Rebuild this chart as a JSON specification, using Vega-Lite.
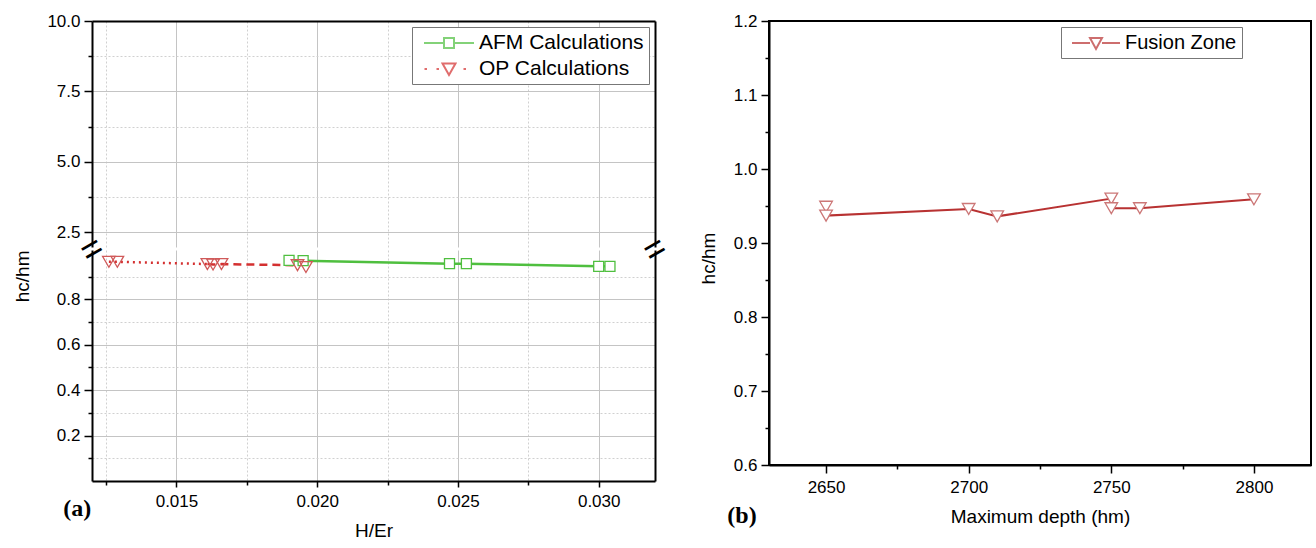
{
  "$schema": "https://vega.github.io/schema/vega-lite/v6.json",
  "padding": {"left": 13, "top": 11, "right": 3, "bottom": 2},
  "datasets": {
    "a": [
      {"series": "AFM Calculations", "x": 0.0190, "y": 0.971},
      {"series": "AFM Calculations", "x": 0.0195, "y": 0.970},
      {"series": "AFM Calculations", "x": 0.0247, "y": 0.957},
      {"series": "AFM Calculations", "x": 0.0253, "y": 0.957},
      {"series": "AFM Calculations", "x": 0.0300, "y": 0.945},
      {"series": "AFM Calculations", "x": 0.0304, "y": 0.945},
      {"series": "OP Calculations", "x": 0.0126, "y": 0.965},
      {"series": "OP Calculations", "x": 0.0129, "y": 0.965},
      {"series": "OP Calculations", "x": 0.0161, "y": 0.955},
      {"series": "OP Calculations", "x": 0.0163, "y": 0.953},
      {"series": "OP Calculations", "x": 0.0166, "y": 0.955},
      {"series": "OP Calculations", "x": 0.0193, "y": 0.950},
      {"series": "OP Calculations", "x": 0.0196, "y": 0.942}
    ],
    "b": [
      {"seq": 1, "depth": 2650, "ratio": 0.949},
      {"seq": 2, "depth": 2650, "ratio": 0.937},
      {"seq": 3, "depth": 2700, "ratio": 0.946},
      {"seq": 4, "depth": 2710, "ratio": 0.936},
      {"seq": 5, "depth": 2750, "ratio": 0.960},
      {"seq": 6, "depth": 2750, "ratio": 0.947},
      {"seq": 7, "depth": 2760, "ratio": 0.947},
      {"seq": 8, "depth": 2800, "ratio": 0.959}
    ]
  },
  "config": {
    "font": "Liberation Sans",
    "view": {"stroke": null},
    "axis": {
      "labelFont": "Liberation Sans", "labelFontSize": 17, "labelColor": "#000",
      "titleFont": "Liberation Sans", "titleFontSize": 19, "titleFontWeight": "normal", "titleColor": "#000",
      "domainColor": "#000", "domainWidth": 2, "tickColor": "#000", "tickWidth": 1.5,
      "gridColor": "#c4c4c4", "gridWidth": 1
    },
    "legend": {
      "labelFont": "Liberation Sans", "labelFontSize": 20, "labelColor": "#000", "labelLimit": 400,
      "strokeColor": "#777", "fillColor": "#fff", "padding": 5, "rowPadding": 5,
      "symbolStrokeWidth": 2, "titlePadding": 0, "symbolSize": 400
    }
  },
  "resolve": {"scale": {"color": "independent", "shape": "independent"}},
  "spacing": 24,
  "hconcat": [
    {
      "title": {"text": "(a)", "orient": "bottom", "anchor": "start", "font": "Liberation Serif", "fontSize": 24, "fontWeight": "bold", "color": "#000", "dx": 50, "dy": -47},
      "spacing": 3,
      "bounds": "flush",
      "vconcat": [
        {
          "width": 563, "height": 226,
          "data": {"name": "a"},
          "layer": [
            {
              "transform": [{"filter": "datum.y > 2"}],
              "mark": {"type": "point", "opacity": 0},
              "encoding": {
                "x": {"field": "x", "type": "quantitative", "scale": {"domain": [0.012, 0.032], "nice": false, "zero": false},
                      "axis": {"orient": "top", "values": [0.015, 0.02, 0.025, 0.03], "labels": false, "ticks": false, "domain": true, "grid": true, "title": null}},
                "y": {"field": "y", "type": "quantitative", "scale": {"domain": [1.97, 10], "nice": false, "zero": false},
                      "axis": {"orient": "left", "values": [2.5, 5, 7.5, 10], "format": ".1f", "grid": true, "tickSize": 8, "labelPadding": 4, "title": null}}
              }
            },
            {
              "transform": [{"filter": "datum.y > 2"}],
              "mark": {"type": "point", "opacity": 0},
              "encoding": {
                "x": {"field": "x", "type": "quantitative", "scale": {"domain": [0.012, 0.032], "nice": false, "zero": false},
                      "axis": {"orient": "top", "values": [0.0125, 0.0175, 0.0225, 0.0275], "labels": false, "ticks": false, "domain": false, "grid": true, "gridDash": [2, 2], "gridColor": "#d0d0d0", "title": null}},
                "y": {"field": "y", "type": "quantitative", "scale": {"domain": [1.97, 10], "nice": false, "zero": false},
                      "axis": {"orient": "left", "values": [3.75, 6.25, 8.75], "labels": false, "tickSize": 4, "domain": false, "grid": true, "gridDash": [2, 2], "gridColor": "#d0d0d0", "title": null}}
              }
            },
            {
              "transform": [{"filter": "datum.y > 2"}],
              "mark": {"type": "point", "filled": false, "strokeWidth": 2},
              "encoding": {
                "x": {"field": "x", "type": "quantitative", "scale": {"domain": [0.012, 0.032], "nice": false, "zero": false}, "axis": null},
                "y": {"field": "y", "type": "quantitative", "scale": {"domain": [1.97, 10], "nice": false, "zero": false},
                      "axis": {"orient": "right", "labels": false, "ticks": false, "domain": true, "grid": false, "title": null}},
                "color": {"field": "series", "type": "nominal",
                          "scale": {"domain": ["AFM Calculations", "OP Calculations"], "range": ["#4fbf3f", "#d43030"]},
                          "legend": {"title": null, "orient": "none", "legendX": 320, "legendY": 6, "symbolOffset": 21, "labelOffset": 19, "labelFontSize": 21}},
                "shape": {"field": "series", "type": "nominal",
                          "scale": {"domain": ["AFM Calculations", "OP Calculations"],
                                    "range": ["M-2.5,0H-0.5M0.5,0H2.5M-0.5,-0.5H0.5V0.5H-0.5Z", "M-2.45,0H-2.2M-1.25,0H-1M1.45,0H1.7M-0.65,-0.55H0.65L0,0.6Z"]},
                          "legend": {"title": null, "orient": "none", "legendX": 320, "legendY": 6, "symbolOffset": 21, "labelOffset": 19, "labelFontSize": 21}}
              }
            }
          ],
          "resolve": {"axis": {"x": "independent", "y": "independent"}}
        },
        {
          "width": 563, "height": 231,
          "data": {"name": "a"},
          "layer": [
            {
              "transform": [{"filter": "datum.y > 5"}],
              "mark": {"type": "point", "opacity": 0},
              "encoding": {
                "x": {"field": "x", "type": "quantitative", "scale": {"domain": [0.012, 0.032], "nice": false, "zero": false},
                      "axis": {"orient": "bottom", "values": [0.015, 0.02, 0.025, 0.03], "format": ".3f", "grid": true, "tickSize": 6, "labelPadding": 6, "title": "H/Er", "titlePadding": 12}},
                "y": {"field": "y", "type": "quantitative", "scale": {"domain": [0, 1.017], "nice": false, "zero": false},
                      "axis": {"orient": "left", "values": [0.2, 0.4, 0.6, 0.8], "format": ".1f", "grid": true, "tickSize": 8, "labelPadding": 4, "title": "hc/hm", "titleAnchor": "end", "titlePadding": 24}}
              }
            },
            {
              "transform": [{"filter": "datum.y > 5"}],
              "mark": {"type": "point", "opacity": 0},
              "encoding": {
                "x": {"field": "x", "type": "quantitative", "scale": {"domain": [0.012, 0.032], "nice": false, "zero": false},
                      "axis": {"orient": "bottom", "values": [0.0125, 0.0175, 0.0225, 0.0275], "labels": false, "tickSize": 4, "domain": false, "grid": true, "gridDash": [2, 2], "gridColor": "#d0d0d0", "title": null}},
                "y": {"field": "y", "type": "quantitative", "scale": {"domain": [0, 1.017], "nice": false, "zero": false},
                      "axis": {"orient": "left", "values": [0.1, 0.3, 0.5, 0.7, 0.9], "labels": false, "tickSize": 4, "domain": false, "grid": true, "gridDash": [2, 2], "gridColor": "#d0d0d0", "title": null}}
              }
            },
            {
              "transform": [{"filter": "datum.series == 'AFM Calculations'"}],
              "mark": {"type": "line", "color": "#4fbf3f", "strokeWidth": 2.5},
              "encoding": {
                "x": {"field": "x", "type": "quantitative", "scale": {"domain": [0.012, 0.032], "nice": false, "zero": false}, "axis": null},
                "y": {"field": "y", "type": "quantitative", "scale": {"domain": [0, 1.017], "nice": false, "zero": false},
                      "axis": {"orient": "right", "labels": false, "ticks": false, "domain": true, "grid": false, "title": null}}
              }
            },
            {
              "transform": [{"filter": "datum.series == 'OP Calculations' && datum.x <= 0.0162"}],
              "mark": {"type": "line", "color": "#d43030", "strokeWidth": 2.5, "strokeDash": [2, 4]},
              "encoding": {
                "x": {"field": "x", "type": "quantitative", "scale": {"domain": [0.012, 0.032], "nice": false, "zero": false}, "axis": null},
                "y": {"field": "y", "type": "quantitative", "scale": {"domain": [0, 1.017], "nice": false, "zero": false}, "axis": null}
              }
            },
            {
              "transform": [{"filter": "datum.series == 'OP Calculations' && datum.x >= 0.0161 && datum.x <= 0.0194"}],
              "mark": {"type": "line", "color": "#d43030", "strokeWidth": 2.5, "strokeDash": [8, 5]},
              "encoding": {
                "x": {"field": "x", "type": "quantitative", "scale": {"domain": [0.012, 0.032], "nice": false, "zero": false}, "axis": null},
                "y": {"field": "y", "type": "quantitative", "scale": {"domain": [0, 1.017], "nice": false, "zero": false}, "axis": null}
              }
            },
            {
              "transform": [{"filter": "datum.series == 'AFM Calculations'"}],
              "mark": {"type": "point", "shape": "square", "size": 100, "filled": true, "fill": "#fff", "stroke": "#4fbf3f", "strokeWidth": 1.3, "opacity": 1},
              "encoding": {
                "x": {"field": "x", "type": "quantitative", "scale": {"domain": [0.012, 0.032], "nice": false, "zero": false}, "axis": null},
                "y": {"field": "y", "type": "quantitative", "scale": {"domain": [0, 1.017], "nice": false, "zero": false}, "axis": null}
              }
            },
            {
              "transform": [{"filter": "datum.series == 'OP Calculations'"}],
              "mark": {"type": "point", "shape": "triangle-down", "size": 160, "filled": false, "stroke": "#d05a5a", "strokeWidth": 1.3, "opacity": 1},
              "encoding": {
                "x": {"field": "x", "type": "quantitative", "scale": {"domain": [0.012, 0.032], "nice": false, "zero": false}, "axis": null},
                "y": {"field": "y", "type": "quantitative", "scale": {"domain": [0, 1.017], "nice": false, "zero": false}, "axis": null}
              }
            },
            {
              "transform": [{"filter": "datum.x < 0.0127"}],
              "mark": {"type": "text", "text": "=", "fontSize": 36, "angle": -30, "baseline": "middle", "align": "center", "color": "#000", "clip": false},
              "encoding": {
                "x": {"datum": 0.012, "type": "quantitative", "scale": {"domain": [0.012, 0.032], "nice": false, "zero": false}, "axis": null},
                "y": {"datum": 1.017, "type": "quantitative", "scale": {"domain": [0, 1.017], "nice": false, "zero": false}, "axis": null}
              }
            },
            {
              "transform": [{"filter": "datum.x < 0.0127"}],
              "mark": {"type": "text", "text": "=", "fontSize": 36, "angle": -30, "baseline": "middle", "align": "center", "color": "#000", "clip": false},
              "encoding": {
                "x": {"datum": 0.032, "type": "quantitative", "scale": {"domain": [0.012, 0.032], "nice": false, "zero": false}, "axis": null},
                "y": {"datum": 1.017, "type": "quantitative", "scale": {"domain": [0, 1.017], "nice": false, "zero": false}, "axis": null}
              }
            }
          ],
          "resolve": {"axis": {"x": "independent", "y": "independent"}}
        }
      ]
    },
    {
      "title": {"text": "(b)", "orient": "bottom", "anchor": "start", "font": "Liberation Serif", "fontSize": 24, "fontWeight": "bold", "color": "#000", "dx": 28, "dy": -26},
      "width": 542, "height": 444,
      "view": {"stroke": "#000", "strokeWidth": 2},
      "data": {"name": "b"},
      "layer": [
        {
          "mark": {"type": "line", "color": "#b83232", "strokeWidth": 2},
          "encoding": {
            "x": {"field": "depth", "type": "quantitative", "scale": {"domain": [2630, 2820], "nice": false, "zero": false},
                  "axis": {"orient": "bottom", "values": [2650, 2700, 2750, 2800], "format": "d", "grid": false, "tickSize": 8, "labelPadding": 6, "title": "Maximum depth (hm)", "titlePadding": 12}},
            "y": {"field": "ratio", "type": "quantitative", "scale": {"domain": [0.6, 1.2], "nice": false, "zero": false},
                  "axis": {"orient": "left", "values": [0.6, 0.7, 0.8, 0.9, 1.0, 1.1, 1.2], "format": ".1f", "grid": false, "tickSize": 8, "labelPadding": 4, "title": "hc/hm", "titlePadding": 15, "titleY": 237}},
            "order": {"field": "seq", "type": "quantitative"}
          }
        },
        {
          "mark": {"type": "point", "shape": "triangle-down", "size": 160, "filled": true, "fill": "#fff", "stroke": "#cc7777", "strokeWidth": 1.3, "opacity": 1},
          "encoding": {
            "x": {"field": "depth", "type": "quantitative", "scale": {"domain": [2630, 2820], "nice": false, "zero": false},
                  "axis": {"orient": "bottom", "values": [2675, 2725, 2775], "labels": false, "tickSize": 4, "domain": false, "grid": false, "title": null}},
            "y": {"field": "ratio", "type": "quantitative", "scale": {"domain": [0.6, 1.2], "nice": false, "zero": false},
                  "axis": {"orient": "left", "values": [0.65, 0.75, 0.85, 0.95, 1.05, 1.15], "labels": false, "tickSize": 4, "domain": false, "grid": false, "title": null}}
          }
        },
        {
          "transform": [{"filter": "datum.ratio > 2"}, {"calculate": "'Fusion Zone'", "as": "series"}],
          "mark": {"type": "point", "filled": false, "strokeWidth": 2},
          "encoding": {
            "x": {"field": "depth", "type": "quantitative", "scale": {"domain": [2630, 2820], "nice": false, "zero": false}, "axis": null},
            "y": {"field": "ratio", "type": "quantitative", "scale": {"domain": [0.6, 1.2], "nice": false, "zero": false}, "axis": null},
            "color": {"field": "series", "type": "nominal",
                      "scale": {"domain": ["Fusion Zone"], "range": ["#b83232"]},
                      "legend": {"title": null, "orient": "none", "legendX": 292, "legendY": 6, "symbolOffset": 19, "labelOffset": 18}},
            "shape": {"field": "series", "type": "nominal",
                      "scale": {"domain": ["Fusion Zone"], "range": ["M-2.4,0H-0.6M0.6,0H2.4M-0.6,-0.5H0.6L0,0.6Z"]},
                      "legend": {"title": null, "orient": "none", "legendX": 292, "legendY": 6, "symbolOffset": 19, "labelOffset": 18}}
          }
        }
      ],
      "resolve": {"axis": {"x": "independent", "y": "independent"}}
    }
  ]
}
